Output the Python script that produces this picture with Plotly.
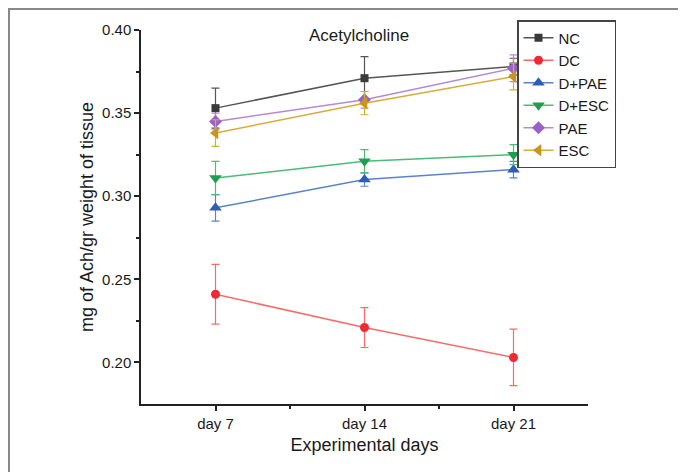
import plotly.graph_objects as go

days = ["day 7", "day 14", "day 21"]
x_pos = [1, 2, 3]

series_names = ["NC", "DC", "D+PAE", "D+ESC", "PAE", "ESC"]
nc = [0.353, 0.371, 0.378]
nc_err = [0.012, 0.013, 0.005]
dc = [0.241, 0.221, 0.203]
dc_err = [0.018, 0.012, 0.017]
d_pae = [0.293, 0.310, 0.316]
d_pae_err = [0.008, 0.004, 0.005]
d_esc = [0.311, 0.321, 0.325]
d_esc_err = [0.010, 0.007, 0.006]
pae = [0.345, 0.358, 0.377]
pae_err = [0.005, 0.005, 0.008]
esc = [0.338, 0.356, 0.372]
esc_err = [0.008, 0.007, 0.008]

values = [nc, dc, d_pae, d_esc, pae, esc]
errors = [nc_err, dc_err, d_pae_err, d_esc_err, pae_err, esc_err]
line_colors = ["#555555", "#f76b6b", "#5b82cc", "#4cbb77", "#b48ad8", "#d9ab3a"]
marker_colors = ["#3a3a3a", "#ee2a35", "#2e5cb8", "#1e9e50", "#9a62c8", "#c8961e"]
symbols = ["square", "circle", "triangle-up", "triangle-down", "diamond", "triangle-left"]
sizes = [8, 9, 11, 11, 10, 11]

fig = go.Figure()
for name, v, e, lc, mc, s, sz in zip(series_names, values, errors, line_colors, marker_colors, symbols, sizes):
    fig.add_trace(go.Scatter(
        x=x_pos, y=v, name=name, mode="lines+markers",
        line=dict(color=lc, width=1.5),
        marker=dict(symbol=s, size=sz, color=mc),
        error_y=dict(type="data", array=e, visible=True, color=lc, thickness=1.2, width=4),
    ))

W, H = 686, 472
L, R, T, B = 133, 106, 22, 76
pw, ph = W - L - R, H - T - B

fig.update_layout(
    width=W, height=H,
    margin=dict(l=L, r=R, t=T, b=B),
    paper_bgcolor="white", plot_bgcolor="white",
    font=dict(family="Liberation Sans, Arial, sans-serif", color="#1a1a1a", size=15),
    showlegend=True,
    legend=dict(x=(509 - L) / pw, y=1 + 10 / ph, xanchor="left", yanchor="top",
                bordercolor="#444444", borderwidth=1.5, bgcolor="white",
                font=dict(size=15, color="#1a1a1a"), tracegroupgap=0,
                itemwidth=30),
    annotations=[dict(text="Acetylcholine", x=1.96, y=0.3965, xref="x", yref="y",
                      showarrow=False, font=dict(size=17, color="#1a1a1a"),
                      xanchor="center", yanchor="middle")],
    shapes=[dict(type="rect", xref="paper", yref="paper",
                 x0=(1 - L) / pw, x1=1 + (R - 1) / pw,
                 y0=-(B - 1) / ph, y1=1 + (T - 1) / ph,
                 line=dict(color="#888888", width=2), layer="below")],
)
fig.update_xaxes(
    range=[0.5, 3.5], tickvals=x_pos, ticktext=days,
    showline=True, linecolor="#222222", linewidth=1.5, mirror=False,
    ticks="outside", ticklen=5, tickwidth=1.5, tickcolor="#222222",
    minor=dict(tickvals=[1.5, 2.5], ticks="outside", ticklen=3, tickwidth=1.5, tickcolor="#222222"),
    showgrid=False, zeroline=False,
    tickfont=dict(size=15),
    title=dict(text="Experimental days", font=dict(size=18), standoff=8),
)
fig.update_yaxes(
    range=[0.175, 0.40], tickvals=[0.20, 0.25, 0.30, 0.35, 0.40], tickformat=".2f",
    showline=True, linecolor="#222222", linewidth=1.5,
    ticks="outside", ticklen=5, tickwidth=1.5, tickcolor="#222222",
    minor=dict(tickvals=[0.225, 0.275, 0.325, 0.375], ticks="outside", ticklen=3, tickwidth=1.5, tickcolor="#222222"),
    showgrid=False, zeroline=False,
    tickfont=dict(size=15),
    title=dict(text="mg of Ach/gr weight of tissue", font=dict(size=18), standoff=4),
)

fig.write_html("out.html")
